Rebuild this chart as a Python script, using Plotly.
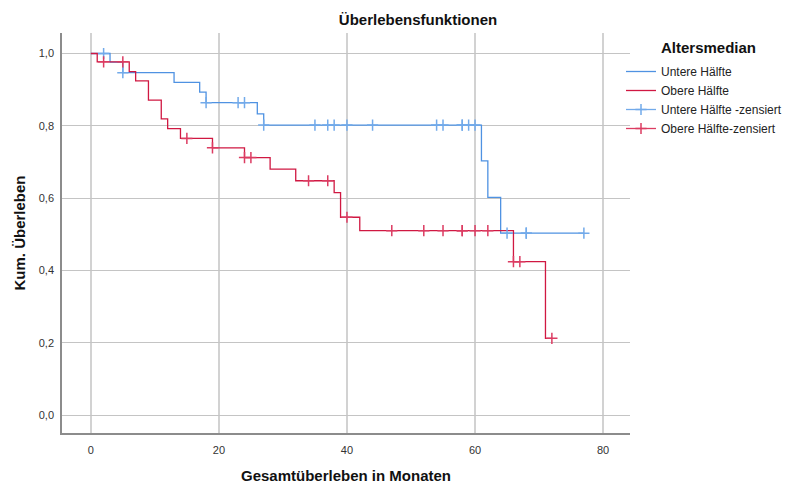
import numpy as np
import plotly.graph_objects as go

# Kaplan-Meier step functions (months, cumulative survival)
lower_t = [0, 3, 5, 13, 17, 18, 26, 27, 61, 62, 64, 77]
lower_s = [1.0, 0.976, 0.947, 0.920, 0.893, 0.864, 0.833, 0.802, 0.703, 0.602, 0.503, 0.503]

upper_t = [0, 1, 6, 7, 9, 11, 12, 14, 19, 24, 28, 32, 38, 39, 42, 66, 71, 72]
upper_s = [1.0, 0.977, 0.950, 0.924, 0.871, 0.819, 0.792, 0.765, 0.739, 0.712,
           0.680, 0.648, 0.615, 0.547, 0.510, 0.424, 0.212, 0.212]

# censored observations (months)
lower_cens = [2, 5, 18, 23, 24, 27, 35, 37, 38, 40, 44, 54, 55, 58, 58, 59, 60, 65, 68, 68, 77]
upper_cens = [2, 5, 15, 19, 24, 25, 34, 37, 40, 47, 52, 55, 58, 58, 60, 62, 66, 67, 72]

x_ticks = [0, 20, 40, 60, 80]
y_ticks = [0.0, 0.2, 0.4, 0.6, 0.8, 1.0]
y_ticktext = ["0,0", "0,2", "0,4", "0,6", "0,8", "1,0"]

BLUE = "#4f92e2"
RED = "#d01842"
BLUE_C = "#72aaea"
RED_C = "#dc3c62"
FONT = "Liberation Sans, Arial, sans-serif"

# plot area in pixels
L, R, T, B = 62, 630, 33, 433
W_PLOT, H_PLOT = R - L, B - T


def survival_at(times, surv, t):
    idx = np.searchsorted(np.asarray(times), t, side="right") - 1
    return surv[idx]


def censor_xy(times, surv, cens):
    xs, ys = [], []
    for c in cens:
        xs += [c, None]
        ys += [survival_at(times, surv, c), None]
    return xs, ys


fig = go.Figure()

fig.add_trace(go.Scatter(x=lower_t, y=lower_s, mode="lines", line_shape="hv",
                         line=dict(color=BLUE, width=1.3), name="Untere Hälfte"))
fig.add_trace(go.Scatter(x=upper_t, y=upper_s, mode="lines", line_shape="hv",
                         line=dict(color=RED, width=1.3), name="Obere Hälfte"))

cx, cy = censor_xy(lower_t, lower_s, lower_cens)
fig.add_trace(go.Scatter(x=cx, y=cy, mode="lines+markers", connectgaps=False,
                         line=dict(color=BLUE_C, width=1.3),
                         marker=dict(symbol="cross-thin", size=8,
                                     line=dict(color=BLUE_C, width=1.5)),
                         name="Untere Hälfte -zensiert"))
cx, cy = censor_xy(upper_t, upper_s, upper_cens)
fig.add_trace(go.Scatter(x=cx, y=cy, mode="lines+markers", connectgaps=False,
                         line=dict(color=RED_C, width=1.3),
                         marker=dict(symbol="cross-thin", size=8,
                                     line=dict(color=RED_C, width=1.5)),
                         name="Obere Hälfte-zensiert"))

fig.update_layout(
    width=789, height=484,
    margin=dict(l=L, r=789 - R, t=T, b=484 - B, pad=0, autoexpand=False),
    paper_bgcolor="white", plot_bgcolor="white",
    font=dict(family=FONT, size=11, color="#222222"),
    title=dict(text="<b>Überlebensfunktionen</b>", x=418 / 789, xanchor="center",
               y=1 - 20 / 484, yanchor="middle",
               font=dict(family=FONT, size=15, color="#111111")),
    showlegend=True,
    legend=dict(x=(621 - L) / W_PLOT, xanchor="left", y=1 - (57 - T) / H_PLOT,
                yanchor="top", font=dict(family=FONT, size=12, color="#222222"),
                itemwidth=30, tracegroupgap=0, bgcolor="rgba(0,0,0,0)"),
    annotations=[dict(text="<b>Altersmedian</b>", xref="paper", yref="paper",
                      x=(659 - L) / W_PLOT, y=1 - (47 - T) / H_PLOT,
                      xanchor="left", yanchor="middle", showarrow=False,
                      font=dict(family=FONT, size=15, color="#111111"))],
)

fig.update_xaxes(
    range=[-4.5, 84.2], tickvals=x_ticks, ticktext=[str(v) for v in x_ticks],
    showgrid=True, gridcolor="#d2d2d2", gridwidth=2, zeroline=False,
    showline=True, linecolor="#8c8c8c", linewidth=1.5, automargin=False,
    ticks="outside", ticklen=6, tickcolor="rgba(0,0,0,0)",
    tickfont=dict(size=11, color="#333333"),
    title=dict(text="<b>Gesamtüberleben in Monaten</b>", standoff=18,
               font=dict(family=FONT, size=15, color="#111111")),
)
fig.update_yaxes(
    range=[-0.0498, 1.0567], tickvals=y_ticks, ticktext=y_ticktext,
    showgrid=True, gridcolor="#c4c4c4", gridwidth=1.3, zeroline=False,
    showline=True, linecolor="#8c8c8c", linewidth=1.5, automargin=False,
    ticks="outside", ticklen=4, tickcolor="rgba(0,0,0,0)",
    tickfont=dict(size=11, color="#333333"),
    title=dict(text="<b>Kum. Überleben</b>", standoff=10,
               font=dict(family=FONT, size=15, color="#111111")),
)

fig.write_html("out.html")
